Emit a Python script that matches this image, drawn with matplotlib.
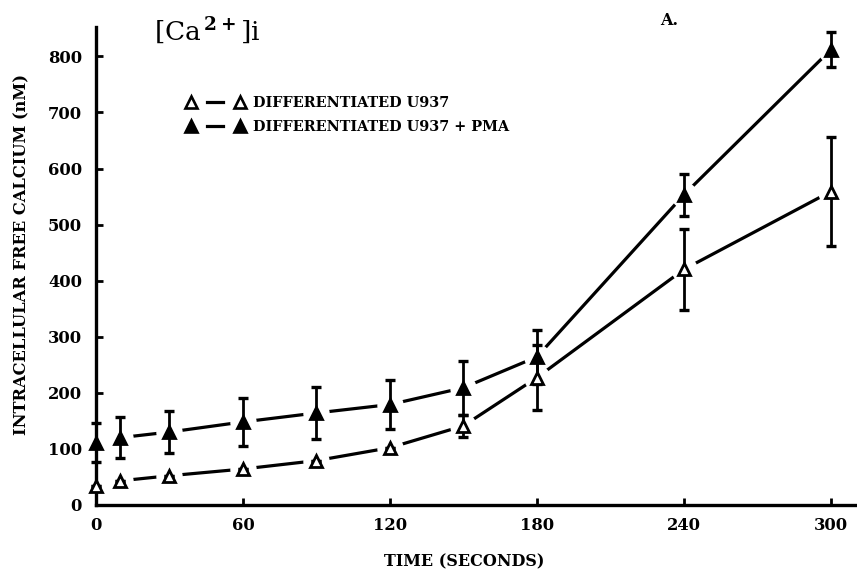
import numpy as np
import matplotlib
matplotlib.use("Agg")
from matplotlib import pyplot as plt
from matplotlib.lines import Line2D
from matplotlib.legend_handler import HandlerTuple

# time points (s) and [Ca2+]i (nM)
time_s = [0, 10, 30, 60, 90, 120, 150, 180, 240, 300]
u937 = [34, 43, 52, 64, 79, 102, 141, 227, 420, 559]
u937_err = [0, 0, 0, 0, 0, 0, 20, 58, 73, 97]
u937_pma = [111, 120, 130, 148, 164, 179, 209, 264, 553, 812]
u937_pma_err = [35, 37, 38, 43, 46, 44, 48, 48, 38, 31]

x_ticks = [0, 60, 120, 180, 240, 300]
y_ticks = [0, 100, 200, 300, 400, 500, 600, 700, 800]

plt.rcParams['font.family'] = ['DejaVu Serif']
plt.rcParams['font.weight'] = 'bold'
plt.rcParams['mathtext.fontset'] = 'dejavuserif'

fig = plt.figure(figsize=(8.57, 5.81), dpi=100)
ax = fig.add_axes([0.112, 0.131, 0.886, 0.823])

MS = 9
LW = 2.3
for y, err, face in [(u937, u937_err, 'white'), (u937_pma, u937_pma_err, 'black')]:
    ax.plot(time_s, y, '-', color='black', lw=LW, zorder=1, solid_capstyle='butt')
    # white halo so the line stops short of each marker
    ax.plot(time_s, y, 'o', ms=MS + 10, mfc='white', mec='none', zorder=2, clip_on=False)
    ax.errorbar(time_s, y, yerr=err, fmt='none', ecolor='black', elinewidth=2.0,
                capsize=3.5, capthick=2.4, zorder=3, clip_on=False)
    ax.plot(time_s, y, '^', ms=MS, mfc=face, mec='black', mew=2.0, zorder=4, clip_on=False)

ax.set_xlim(0, 310)
ax.set_ylim(0, 853)
ax.set_xticks(x_ticks)
ax.set_yticks(y_ticks)
ax.tick_params(direction='in', length=5, width=2, labelsize=11.8)
ax.tick_params(axis='y', pad=10)
ax.tick_params(axis='x', pad=9)
for lbl in ax.get_xticklabels() + ax.get_yticklabels():
    lbl.set_fontweight('bold')
ax.spines['top'].set_visible(False)
ax.spines['right'].set_visible(False)
ax.spines['left'].set_linewidth(2.4)
ax.spines['bottom'].set_linewidth(2.4)

ax.set_xlabel('TIME (SECONDS)', fontsize=11.5, fontweight='bold', labelpad=14, x=0.485)
ax.set_ylabel('INTRACELLULAR FREE CALCIUM (nM)', fontsize=11.7, fontweight='bold',
              labelpad=13, y=0.523)

fig.text(0.18, 0.948, r'[Ca$^{\,\mathrm{2+}}$]i', fontsize=19, fontweight='normal', va='center')
fig.text(0.77, 0.965, 'A.', fontsize=11.5, fontweight='bold', va='center')

open_tri = Line2D([], [], ls='none', marker='^', ms=8, mfc='white', mec='black', mew=1.9)
filled_tri = Line2D([], [], ls='none', marker='^', ms=8, mfc='black', mec='black', mew=1.9)
dash = Line2D([], [], color='black', lw=LW)
ax.legend([(open_tri, dash, open_tri), (filled_tri, dash, filled_tri)],
          ['DIFFERENTIATED U937', 'DIFFERENTIATED U937 + PMA'],
          handler_map={tuple: HandlerTuple(ndivide=None, pad=0.6)},
          loc='upper left', bbox_to_anchor=(0.097, 0.882), frameon=False, numpoints=1,
          handlelength=4.5, handletextpad=0.35, labelspacing=0.7,
          prop={'size': 10.4, 'weight': 'bold', 'family': 'DejaVu Serif'})

fig.savefig('out.png', dpi=100)
